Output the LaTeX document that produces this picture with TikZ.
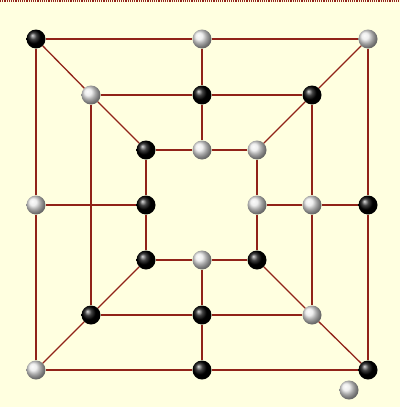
\documentclass[tikz,border=0pt]{standalone}
\usepackage{tikz}
\usetikzlibrary{arrows,shapes}
\definecolor{boardbg}{RGB}{255,255,224}
\definecolor{boardline}{RGB}{145,35,25}
\tikzstyle{point}=[circle,fill=boardline,minimum size=3pt,inner sep=0pt]
\tikzstyle{blackstone}=[circle,ball color=black,minimum size=19pt,inner sep=0pt]
\tikzstyle{whitestone}=[circle,ball color=gray!18,minimum size=19pt,inner sep=0pt]
\tikzstyle{edge} = [draw,line width=1.3pt,boardline,-]

\begin{document}
\begin{tikzpicture}[x=1pt,y=-1pt]
        \fill[boardbg] (0,0) rectangle (400,407);
        \useasboundingbox (0,0) rectangle (400,407);
        \draw[boardline,densely dotted,line width=1.2pt] (0,1) -- (400,1);
        % outer ring
        \node[blackstone] (otl) at (36,39) {};
        \node[whitestone] (otm) at (202,39) {};
        \node[whitestone] (otr) at (368,39) {};
        \node[whitestone] (oml) at (36,205) {};
        \node[blackstone] (omr) at (368,205) {};
        \node[whitestone] (obl) at (36,370) {};
        \node[blackstone] (obm) at (202,370) {};
        \node[blackstone] (obr) at (368,370) {};
        % middle ring
        \node[whitestone] (mtl) at (91,95) {};
        \node[blackstone] (mtm) at (202,95) {};
        \node[blackstone] (mtr) at (312,95) {};
        \node[point] (mml) at (91,205) {};
        \node[whitestone] (mmr) at (312,205) {};
        \node[blackstone] (mbl) at (91,315) {};
        \node[blackstone] (mbm) at (202,315) {};
        \node[whitestone] (mbr) at (312,315) {};
        % inner ring
        \node[blackstone] (itl) at (146,150) {};
        \node[whitestone] (itm) at (202,150) {};
        \node[whitestone] (itr) at (257,150) {};
        \node[blackstone] (iml) at (146,205) {};
        \node[whitestone] (imr) at (257,205) {};
        \node[blackstone] (ibl) at (146,260) {};
        \node[whitestone] (ibm) at (202,260) {};
        \node[blackstone] (ibr) at (257,260) {};
        \node[whitestone] (spare) at (349,390) {};
        \draw[edge] (otl) to (otm);
        \draw[edge] (otm) to (otr);
        \draw[edge] (otr) to (omr);
        \draw[edge] (omr) to (obr);
        \draw[edge] (obr) to (obm);
        \draw[edge] (obm) to (obl);
        \draw[edge] (obl) to (oml);
        \draw[edge] (oml) to (otl);
        \draw[edge] (mtl) to (mtm);
        \draw[edge] (mtm) to (mtr);
        \draw[edge] (mtr) to (mmr);
        \draw[edge] (mmr) to (mbr);
        \draw[edge] (mbr) to (mbm);
        \draw[edge] (mbm) to (mbl);
        \draw[edge] (mbl) to (mml.center);
        \draw[edge] (mml.center) to (mtl);
        \draw[edge] (itl) to (itm);
        \draw[edge] (itm) to (itr);
        \draw[edge] (itr) to (imr);
        \draw[edge] (imr) to (ibr);
        \draw[edge] (ibr) to (ibm);
        \draw[edge] (ibm) to (ibl);
        \draw[edge] (ibl) to (iml);
        \draw[edge] (iml) to (itl);
        \draw[edge] (otm) to (mtm);
        \draw[edge] (mtm) to (itm);
        \draw[edge] (oml) to (mml.center);
        \draw[edge] (mml.center) to (iml);
        \draw[edge] (omr) to (mmr);
        \draw[edge] (mmr) to (imr);
        \draw[edge] (obm) to (mbm);
        \draw[edge] (mbm) to (ibm);
        \draw[edge] (otl) to (mtl);
        \draw[edge] (mtl) to (itl);
        \draw[edge] (otr) to (mtr);
        \draw[edge] (mtr) to (itr);
        \draw[edge] (obl) to (mbl);
        \draw[edge] (mbl) to (ibl);
        \draw[edge] (obr) to (mbr);
        \draw[edge] (mbr) to (ibr);
      \end{tikzpicture}
\end{document}
